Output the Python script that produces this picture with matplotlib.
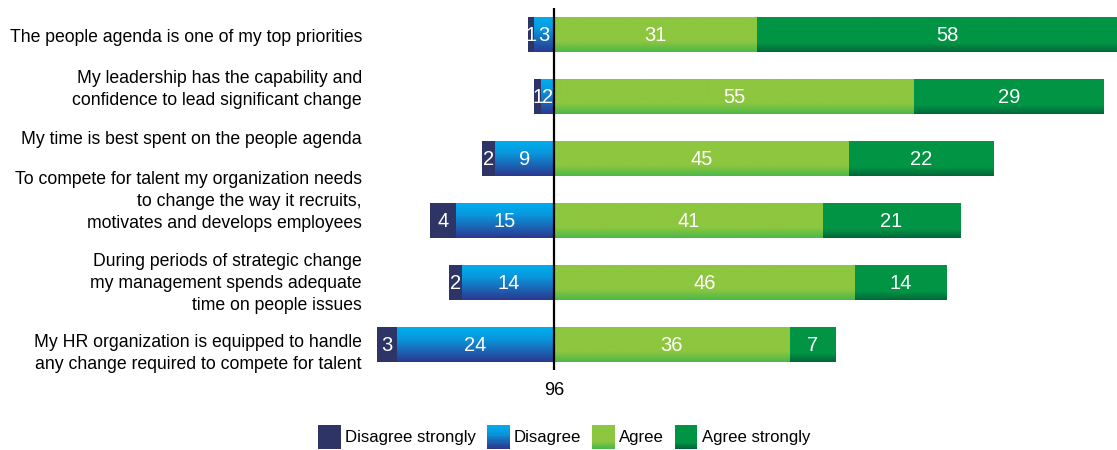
import matplotlib
matplotlib.use("Agg")
import matplotlib.pyplot as plt
import numpy as np
from matplotlib.colors import to_rgb
from matplotlib.patches import Rectangle, Patch
from matplotlib.legend_handler import HandlerBase

# survey statements (top to bottom)
statements = [
    "The people agenda is one of my top priorities",
    "My leadership has the capability and\nconfidence to lead significant change",
    "My time is best spent on the people agenda",
    "To compete for talent my organization needs\nto change the way it recruits,\nmotivates and develops employees",
    "During periods of strategic change\nmy management spends adequate\ntime on people issues",
    "My HR organization is equipped to handle\nany change required to compete for talent",
]
disagree_strongly = [1, 1, 2, 4, 2, 3]
disagree = [3, 2, 9, 15, 14, 24]
agree = [31, 55, 45, 41, 46, 36]
agree_strongly = [58, 29, 22, 21, 14, 7]
series_names = ["Disagree strongly", "Disagree", "Agree", "Agree strongly"]
center_label = "96"

# the labels in the original don't sit exactly on the bar centres
label_shift = [0, -0.20, -0.355, -0.395, -0.065, 0.065]

# vertical colour stops (top -> bottom) for each series
stops = {
    "Disagree strongly": [(0, "#2e3466"), (1, "#2e3466")],
    "Disagree": [(0, "#00aeef"), (0.35, "#0a95db"), (1, "#2b3990")],
    "Agree": [(0, "#8dc63f"), (0.7, "#8dc63f"), (1, "#4cb848")],
    "Agree strongly": [(0, "#009444"), (0.75, "#009444"), (1, "#006838")],
}


def gradient(name, n=40):
    pos = [p for p, c in stops[name]]
    cols = np.array([to_rgb(c) for p, c in stops[name]])
    t = np.linspace(0, 1, n)
    return np.stack([np.interp(t, pos, cols[:, k]) for k in range(3)], axis=1)


class GradientHandler(HandlerBase):
    def __init__(self, name):
        super().__init__()
        self.name = name

    def create_artists(self, legend, orig_handle, xdescent, ydescent,
                       width, height, fontsize, trans):
        cols = gradient(self.name, 20)
        n = len(cols)
        arts = []
        for i, c in enumerate(cols):
            y0 = -ydescent + height * (1 - (i + 1) / n)
            arts.append(Rectangle((-xdescent, y0), width, height / n * 1.05,
                                  facecolor=c, edgecolor="none", transform=trans))
        return arts


plt.rcParams["font.family"] = ["Liberation Sans", "DejaVu Sans"]

fig = plt.figure(figsize=(11.17, 4.5), dpi=100)
ax = fig.add_axes([0.334, 0.178, 0.666, 0.804])

y = np.arange(len(statements))
h = 0.55
ds = np.array(disagree_strongly)
d = np.array(disagree)
a = np.array(agree)
ast = np.array(agree_strongly)

groups = [
    ("Disagree strongly", -ds, -d, ds),
    ("Disagree", -d, np.zeros(len(y)), d),
    ("Agree", a, np.zeros(len(y)), a),
    ("Agree strongly", ast, a, ast),
]

for name, width, left, vals in groups:
    bars = ax.barh(y, width, left=left, height=h, color="none", edgecolor="none")
    img = gradient(name)[:, None, :]
    for bar, v in zip(bars, vals):
        x0, y0 = bar.get_x(), bar.get_y()
        w, hh = bar.get_width(), bar.get_height()
        ax.imshow(img, extent=[min(x0, x0 + w), max(x0, x0 + w), y0 + hh, y0],
                  aspect="auto", interpolation="bilinear", zorder=2)
        ax.text(x0 + w / 2, y0 + hh / 2, str(v), color="white", fontsize=14.5,
                ha="center", va="center", zorder=3)

ax.axvline(0, color="black", lw=1.6, zorder=4)

scale = 6.55
ax.set_xlim(-(554 - 373) / scale, (1117 - 554) / scale)
ax.set_ylim(len(y) - 1 + 0.40, -0.435)

ax.set_yticks(y + np.array(label_shift))
ax.set_yticklabels(statements, fontsize=12.7, linespacing=1.38)
ax.set_xticks([0])
ax.set_xticklabels([center_label], fontsize=13)
ax.tick_params(axis="both", length=0)
ax.tick_params(axis="y", pad=8)
ax.tick_params(axis="x", pad=9)
for s in ax.spines.values():
    s.set_visible(False)

handles = [Patch(label=n) for n in series_names]
fig.legend(handles=handles, labels=series_names, loc="center",
           bbox_to_anchor=(0.505, 0.029), ncol=4, frameon=False, fontsize=12.1,
           handlelength=1.35, handleheight=1.8, handletextpad=0.25,
           columnspacing=0.65, borderpad=0,
           handler_map={h_: GradientHandler(n) for h_, n in zip(handles, series_names)})

fig.savefig("out.png", dpi=100)
